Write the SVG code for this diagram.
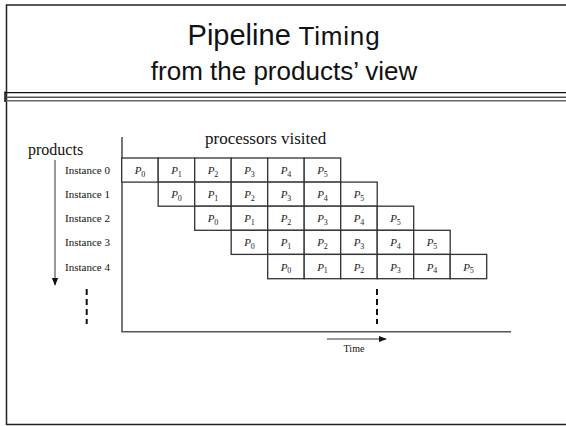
<svg xmlns="http://www.w3.org/2000/svg" width="566" height="426" viewBox="0 0 566 426">
  <style>
    .frame { fill: none; stroke: #222; stroke-width: 1.5; }
    .title { font-family: "Liberation Sans", Arial, sans-serif; fill: #111; text-anchor: middle; }
    .serif { font-family: "Liberation Serif", "Times New Roman", serif; fill: #111; }
    .inst { font-size: 11px; }
    .cell { fill: #fff; stroke: #333; stroke-width: 1.3; }
    .p { font-family: "Liberation Serif", "Times New Roman", serif; font-style: italic; font-size: 11px; fill: #222; text-anchor: middle; }
    .sub { font-style: normal; font-size: 8px; }
    .axis { stroke: #555; stroke-width: 1.6; fill: none; }
    .arrow { stroke: #333; stroke-width: 1; fill: none; }
    .dash { stroke: #111; stroke-width: 2; stroke-dasharray: 6 4; fill: none; }
  </style>
  <defs>
    <marker id="ah" viewBox="0 0 10 10" refX="9" refY="5" markerWidth="8" markerHeight="8" markerUnits="userSpaceOnUse" orient="auto">
      <path d="M0,1 L10,5 L0,9 Z" fill="#111"/>
    </marker>
  </defs>

  <!-- slide frame -->
  <path class="frame" d="M566,5 H6.5 V424.5 H566"/>

  <!-- title -->
  <g id="title">
    <text class="title" x="284" y="45" font-size="28"><tspan font-size="29">Pipeline</tspan> <tspan font-size="26" letter-spacing="0.8">Timing</tspan></text>
    <text class="title" x="284" y="80" font-size="26">from the products’ view</text>
  </g>

  <!-- title separator -->
  <g id="separator">
    <line x1="5" y1="92.7" x2="566" y2="92.7" stroke="#111" stroke-width="1.3"/>
    <line x1="5" y1="97.3" x2="566" y2="97.3" stroke="#555" stroke-width="1.6"/>
    <line x1="5" y1="100.7" x2="566" y2="100.7" stroke="#666" stroke-width="1.6"/>
    <line x1="5" y1="91.5" x2="5" y2="102" stroke="#111" stroke-width="1.5"/>
  </g>

  <!-- axis labels -->
  <text id="lbl-products" class="serif" x="28" y="155" font-size="16">products</text>
  <text id="lbl-processors" class="serif" x="205" y="144" font-size="17">processors visited</text>
  <text id="lbl-time" class="serif" x="354" y="352" font-size="10" text-anchor="middle">Time</text>

  <!-- instance labels -->
  <g id="instances" class="serif inst">
    <text x="65" y="174">Instance 0</text>
    <text x="65" y="198">Instance 1</text>
    <text x="65" y="222">Instance 2</text>
    <text x="65" y="246">Instance 3</text>
    <text x="65" y="271">Instance 4</text>
  </g>

  <!-- connectors: axes, arrows, continuation marks -->
  <g id="connectors">
    <polyline class="axis" points="122,137 122,331.7 511,331.7"/>
    <line class="arrow" x1="55" y1="160" x2="55" y2="285" marker-end="url(#ah)"/>
    <line class="arrow" x1="327" y1="339" x2="386" y2="339" marker-end="url(#ah)"/>
    <line class="dash" x1="86.7" y1="289" x2="86.7" y2="324"/>
    <line class="dash" x1="377" y1="289" x2="377" y2="324"/>
  </g>

  <!-- row 0 -->
  <g id="row0">
    <rect class="cell" x="121.7" y="158" width="36.5" height="24.1"/>
    <rect class="cell" x="158.2" y="158" width="36.5" height="24.1"/>
    <rect class="cell" x="194.7" y="158" width="36.5" height="24.1"/>
    <rect class="cell" x="231.2" y="158" width="36.5" height="24.1"/>
    <rect class="cell" x="267.7" y="158" width="36.5" height="24.1"/>
    <rect class="cell" x="304.2" y="158" width="36.5" height="24.1"/>
    <text class="p" x="140" y="174">P<tspan class="sub" dy="2.5">0</tspan></text>
    <text class="p" x="176.5" y="174">P<tspan class="sub" dy="2.5">1</tspan></text>
    <text class="p" x="213" y="174">P<tspan class="sub" dy="2.5">2</tspan></text>
    <text class="p" x="249.5" y="174">P<tspan class="sub" dy="2.5">3</tspan></text>
    <text class="p" x="286" y="174">P<tspan class="sub" dy="2.5">4</tspan></text>
    <text class="p" x="322.5" y="174">P<tspan class="sub" dy="2.5">5</tspan></text>
  </g>

  <!-- row 1 -->
  <g id="row1">
    <rect class="cell" x="158.2" y="182.1" width="36.5" height="24.1"/>
    <rect class="cell" x="194.7" y="182.1" width="36.5" height="24.1"/>
    <rect class="cell" x="231.2" y="182.1" width="36.5" height="24.1"/>
    <rect class="cell" x="267.7" y="182.1" width="36.5" height="24.1"/>
    <rect class="cell" x="304.2" y="182.1" width="36.5" height="24.1"/>
    <rect class="cell" x="340.7" y="182.1" width="36.5" height="24.1"/>
    <text class="p" x="176.5" y="198">P<tspan class="sub" dy="2.5">0</tspan></text>
    <text class="p" x="213" y="198">P<tspan class="sub" dy="2.5">1</tspan></text>
    <text class="p" x="249.5" y="198">P<tspan class="sub" dy="2.5">2</tspan></text>
    <text class="p" x="286" y="198">P<tspan class="sub" dy="2.5">3</tspan></text>
    <text class="p" x="322.5" y="198">P<tspan class="sub" dy="2.5">4</tspan></text>
    <text class="p" x="359" y="198">P<tspan class="sub" dy="2.5">5</tspan></text>
  </g>

  <!-- row 2 -->
  <g id="row2">
    <rect class="cell" x="194.7" y="206.2" width="36.5" height="24.1"/>
    <rect class="cell" x="231.2" y="206.2" width="36.5" height="24.1"/>
    <rect class="cell" x="267.7" y="206.2" width="36.5" height="24.1"/>
    <rect class="cell" x="304.2" y="206.2" width="36.5" height="24.1"/>
    <rect class="cell" x="340.7" y="206.2" width="36.5" height="24.1"/>
    <rect class="cell" x="377.2" y="206.2" width="36.5" height="24.1"/>
    <text class="p" x="213" y="222">P<tspan class="sub" dy="2.5">0</tspan></text>
    <text class="p" x="249.5" y="222">P<tspan class="sub" dy="2.5">1</tspan></text>
    <text class="p" x="286" y="222">P<tspan class="sub" dy="2.5">2</tspan></text>
    <text class="p" x="322.5" y="222">P<tspan class="sub" dy="2.5">3</tspan></text>
    <text class="p" x="359" y="222">P<tspan class="sub" dy="2.5">4</tspan></text>
    <text class="p" x="395.5" y="222">P<tspan class="sub" dy="2.5">5</tspan></text>
  </g>

  <!-- row 3 -->
  <g id="row3">
    <rect class="cell" x="231.2" y="230.3" width="36.5" height="24.1"/>
    <rect class="cell" x="267.7" y="230.3" width="36.5" height="24.1"/>
    <rect class="cell" x="304.2" y="230.3" width="36.5" height="24.1"/>
    <rect class="cell" x="340.7" y="230.3" width="36.5" height="24.1"/>
    <rect class="cell" x="377.2" y="230.3" width="36.5" height="24.1"/>
    <rect class="cell" x="413.7" y="230.3" width="36.5" height="24.1"/>
    <text class="p" x="249.5" y="246">P<tspan class="sub" dy="2.5">0</tspan></text>
    <text class="p" x="286" y="246">P<tspan class="sub" dy="2.5">1</tspan></text>
    <text class="p" x="322.5" y="246">P<tspan class="sub" dy="2.5">2</tspan></text>
    <text class="p" x="359" y="246">P<tspan class="sub" dy="2.5">3</tspan></text>
    <text class="p" x="395.5" y="246">P<tspan class="sub" dy="2.5">4</tspan></text>
    <text class="p" x="432" y="246">P<tspan class="sub" dy="2.5">5</tspan></text>
  </g>

  <!-- row 4 -->
  <g id="row4">
    <rect class="cell" x="267.7" y="254.4" width="36.5" height="24.3"/>
    <rect class="cell" x="304.2" y="254.4" width="36.5" height="24.3"/>
    <rect class="cell" x="340.7" y="254.4" width="36.5" height="24.3"/>
    <rect class="cell" x="377.2" y="254.4" width="36.5" height="24.3"/>
    <rect class="cell" x="413.7" y="254.4" width="36.5" height="24.3"/>
    <rect class="cell" x="450.2" y="254.4" width="36.5" height="24.3"/>
    <text class="p" x="286" y="270.5">P<tspan class="sub" dy="2.5">0</tspan></text>
    <text class="p" x="322.5" y="270.5">P<tspan class="sub" dy="2.5">1</tspan></text>
    <text class="p" x="359" y="270.5">P<tspan class="sub" dy="2.5">2</tspan></text>
    <text class="p" x="395.5" y="270.5">P<tspan class="sub" dy="2.5">3</tspan></text>
    <text class="p" x="432" y="270.5">P<tspan class="sub" dy="2.5">4</tspan></text>
    <text class="p" x="468.5" y="270.5">P<tspan class="sub" dy="2.5">5</tspan></text>
  </g>
</svg>
